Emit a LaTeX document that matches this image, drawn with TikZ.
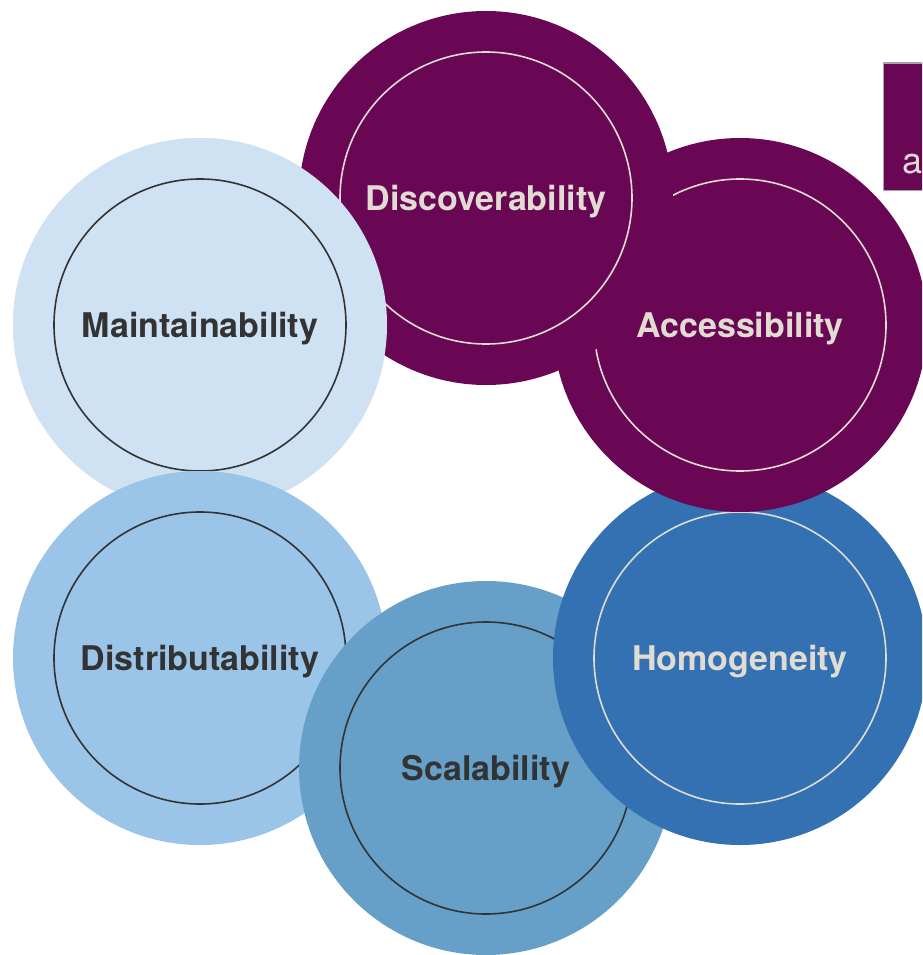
\documentclass[tikz,border=0pt]{standalone}
\usepackage{fontspec}
\setmainfont{TeX Gyre Heros}
\usepackage{xcolor}
\usepackage{tikz}
\usetikzlibrary{positioning}
\definecolor{plum}{HTML}{6A0755}
\definecolor{paleblue}{HTML}{CFE2F3}
\definecolor{skyblue}{HTML}{9AC5E8}
\definecolor{steelblue}{HTML}{66A0C8}
\definecolor{deepblue}{HTML}{3371B2}
\definecolor{ink}{HTML}{333333}
\definecolor{cream}{HTML}{E0DCD2}
\tikzset{
  ring/.style={circle, inner sep=0pt, minimum size=374pt},
  core/.style={circle, inner sep=0pt, minimum size=292pt, line width=1.6pt,
    text depth=0pt, font=\fontsize{34}{38}\selectfont\bfseries},
  darkcore/.style={core, draw=ink, text=ink},
  lightcore/.style={core, draw=cream, text=cream}
}

\begin{document}
\begin{tikzpicture}[x=1pt,y=-1pt]
  \useasboundingbox (0,0) rectangle (922,955);
  \clip (0,0) rectangle (922,955);
  % ring of circles, each one lying over the next
  \node[ring, fill=paleblue] (maint) at (200,325) {};
  \node[darkcore] (maint-in) at (maint) {Maintainability};
  \node[ring, fill=skyblue] (dist) at (200,658) {};
  \node[darkcore] (dist-in) at (dist) {Distributability};
  \node[ring, fill=steelblue] (scal) at (486,768) {};
  \node[darkcore] (scal-in) at (scal) {Scalability};
  \node[ring, fill=deepblue] (hom) at (740,658) {};
  \node[lightcore] (hom-in) at (hom) {Homogeneity};
  \node[ring, fill=plum] (acc) at (740,325) {};
  \node[lightcore] (acc-in) at (acc) {Accessibility};
  \node[ring, fill=plum] (disc) at (486,198) {};
  \node[lightcore] (disc-in) at (disc) {Discoverability};
  % close the loop: top of Maintainability over Discoverability
  \begin{scope}
    \clip (0,0) rectangle (420,420);
    \node[ring, fill=paleblue] (maint-top) at (200,325) {};
    \node[darkcore] (maint-top-in) at (maint-top) {Maintainability};
  \end{scope}
  % box at the right edge
  \node[draw=gray!70, line width=1.5pt, fill=plum, minimum width=70pt,
    minimum height=127pt, anchor=north west] (tag) at (882.5,62.5) {};
  \node[anchor=base west, inner sep=0pt, text=cream,
    font=\fontsize{36}{40}\selectfont] (tag-text) at (902,173) {a};
\end{tikzpicture}
\end{document}
